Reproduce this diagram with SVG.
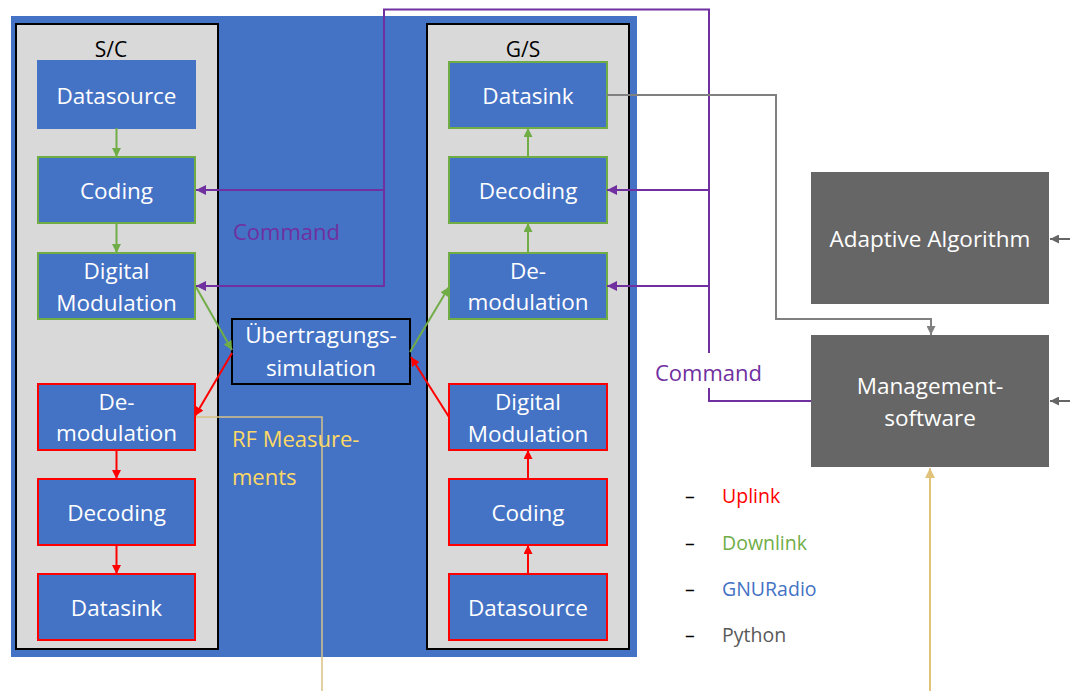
<svg xmlns="http://www.w3.org/2000/svg" width="1070" height="691" viewBox="0 0 1070 691">
  <style>
    .box { fill: #4472C4; stroke-width: 2; }
    .dl { stroke: #70AD47; }
    .ul { stroke: #FF0000; }
    .plain { stroke: #4472C4; }
    .panel { fill: #D9D9D9; stroke: #000; stroke-width: 2; }
    .py { fill: #666666; }
    .t { font-family: "Open Sans", "Liberation Sans", sans-serif; font-size: 22.5px; fill: #fff; text-anchor: middle; }
    .lbl { font-family: "Open Sans", "Liberation Sans", sans-serif; font-size: 21px; fill: #000; text-anchor: middle; }
    .cmd { font-family: "Open Sans", "Liberation Sans", sans-serif; font-size: 22px; fill: #7030A0; }
    .rf { font-family: "Open Sans", "Liberation Sans", sans-serif; font-size: 22px; fill: #FFD966; }
    .leg { font-family: "Open Sans", "Liberation Sans", sans-serif; font-size: 19.5px; }
    .c { fill: none; stroke-width: 2; }
    .cg { stroke: #70AD47; }
    .cr { stroke: #FF0000; }
    .cp { stroke: #7030A0; }
    .cy { stroke: #D6C186; stroke-width: 1.5; }
    .cy2 { stroke: #E0C27A; }
    .cgr { stroke: #808080; }
    .cdg { stroke: #666666; }
  </style>
  <defs>
    <marker id="ah-g" viewBox="0 0 10 10" refX="10" refY="5" markerWidth="9" markerHeight="9" markerUnits="userSpaceOnUse" orient="auto">
      <path d="M0,0 L10,5 L0,10 z" fill="#70AD47"/>
    </marker>
    <marker id="ah-r" viewBox="0 0 10 10" refX="10" refY="5" markerWidth="9" markerHeight="9" markerUnits="userSpaceOnUse" orient="auto">
      <path d="M0,0 L10,5 L0,10 z" fill="#FF0000"/>
    </marker>
    <marker id="ah-p" viewBox="0 0 10 10" refX="10" refY="5" markerWidth="10" markerHeight="10" markerUnits="userSpaceOnUse" orient="auto">
      <path d="M0,0 L10,5 L0,10 z" fill="#7030A0"/>
    </marker>
    <marker id="ah-gr" viewBox="0 0 10 10" refX="10" refY="5" markerWidth="9" markerHeight="9" markerUnits="userSpaceOnUse" orient="auto">
      <path d="M0,0 L10,5 L0,10 z" fill="#808080"/>
    </marker>
    <marker id="ah-dg" viewBox="0 0 10 10" refX="10" refY="5" markerWidth="9" markerHeight="9" markerUnits="userSpaceOnUse" orient="auto">
      <path d="M0,0 L10,5 L0,10 z" fill="#666666"/>
    </marker>
    <marker id="ah-y" viewBox="0 0 10 10" refX="10" refY="5" markerWidth="10" markerHeight="10" markerUnits="userSpaceOnUse" orient="auto">
      <path d="M0,0 L10,5 L0,10 z" fill="#E0C27A"/>
    </marker>
  </defs>

  <rect width="1070" height="691" fill="#fff"/>

  <!-- GNURadio flowgraph area -->
  <rect id="gnuradio-area" x="11" y="16" width="626" height="641" fill="#4472C4"/>

  <!-- spacecraft and ground station panels -->
  <g id="sc-panel">
    <rect class="panel" x="16" y="24" width="202" height="625"/>
    <text class="lbl" x="111" y="57">S/C</text>
  </g>
  <g id="gs-panel">
    <rect class="panel" x="427" y="24" width="202" height="625"/>
    <text class="lbl" x="523" y="57">G/S</text>
  </g>

  <!-- spacecraft blocks -->
  <g id="sc-datasource">
    <rect class="box plain" x="38" y="61" width="157" height="67"/>
    <text class="t" x="116.5" y="104">Datasource</text>
  </g>
  <g id="sc-coding">
    <rect class="box dl" x="38" y="157" width="157" height="66"/>
    <text class="t" x="116.5" y="199">Coding</text>
  </g>
  <g id="sc-modulation">
    <rect class="box dl" x="38" y="253" width="157" height="66"/>
    <text class="t" x="116.5" y="279">Digital</text>
    <text class="t" x="116.5" y="311">Modulation</text>
  </g>
  <g id="sc-demodulation">
    <rect class="box ul" x="38" y="384" width="157" height="66"/>
    <text class="t" x="116.5" y="410">De-</text>
    <text class="t" x="116.5" y="441">modulation</text>
  </g>
  <g id="sc-decoding">
    <rect class="box ul" x="38" y="479" width="157" height="66"/>
    <text class="t" x="116.5" y="521">Decoding</text>
  </g>
  <g id="sc-datasink">
    <rect class="box ul" x="38" y="574" width="157" height="66"/>
    <text class="t" x="116.5" y="616">Datasink</text>
  </g>

  <!-- ground station blocks -->
  <g id="gs-datasink">
    <rect class="box dl" x="449" y="62" width="158" height="66"/>
    <text class="t" x="528" y="104">Datasink</text>
  </g>
  <g id="gs-decoding">
    <rect class="box dl" x="449" y="157" width="158" height="66"/>
    <text class="t" x="528" y="199">Decoding</text>
  </g>
  <g id="gs-demodulation">
    <rect class="box dl" x="449" y="253" width="158" height="66"/>
    <text class="t" x="528" y="279">De-</text>
    <text class="t" x="528" y="310">modulation</text>
  </g>
  <g id="gs-modulation">
    <rect class="box ul" x="449" y="384" width="158" height="66"/>
    <text class="t" x="528" y="410">Digital</text>
    <text class="t" x="528" y="442">Modulation</text>
  </g>
  <g id="gs-coding">
    <rect class="box ul" x="449" y="479" width="158" height="66"/>
    <text class="t" x="528" y="521">Coding</text>
  </g>
  <g id="gs-datasource">
    <rect class="box ul" x="449" y="574" width="158" height="66"/>
    <text class="t" x="528" y="616">Datasource</text>
  </g>

  <!-- channel simulation -->
  <g id="channel-sim">
    <rect x="232" y="319" width="178" height="65" fill="#4472C4" stroke="#000" stroke-width="2"/>
    <text class="t" x="321" y="343">Übertragungs-</text>
    <text class="t" x="321" y="376">simulation</text>
  </g>

  <!-- python side -->
  <g id="adaptive-algorithm">
    <rect class="py" x="811" y="172" width="238" height="132"/>
    <text class="t" x="930" y="247">Adaptive Algorithm</text>
  </g>
  <g id="management-software">
    <rect class="py" x="811" y="335" width="238" height="132"/>
    <text class="t" x="930" y="394">Management-</text>
    <text class="t" x="930" y="426">software</text>
  </g>

  <!-- connectors -->
  <g id="connectors">
    <!-- downlink chain -->
    <line class="c cg" x1="116.5" y1="128" x2="116.5" y2="157" marker-end="url(#ah-g)"/>
    <line class="c cg" x1="116.5" y1="223" x2="116.5" y2="253" marker-end="url(#ah-g)"/>
    <line class="c cg" x1="196" y1="287" x2="232" y2="350" marker-end="url(#ah-g)"/>
    <line class="c cg" x1="410" y1="352" x2="449" y2="287" marker-end="url(#ah-g)"/>
    <line class="c cg" x1="528" y1="253" x2="528" y2="223" marker-end="url(#ah-g)"/>
    <line class="c cg" x1="528" y1="157" x2="528" y2="128" marker-end="url(#ah-g)"/>

    <!-- uplink chain -->
    <line class="c cr" x1="528" y1="574" x2="528" y2="545" marker-end="url(#ah-r)"/>
    <line class="c cr" x1="528" y1="479" x2="528" y2="450" marker-end="url(#ah-r)"/>
    <line class="c cr" x1="449" y1="417" x2="411" y2="357" marker-end="url(#ah-r)"/>
    <line class="c cr" x1="232" y1="353" x2="195" y2="416" marker-end="url(#ah-r)"/>
    <line class="c cr" x1="116.5" y1="450" x2="116.5" y2="479" marker-end="url(#ah-r)"/>
    <line class="c cr" x1="116.5" y1="545" x2="116.5" y2="574" marker-end="url(#ah-r)"/>

    <!-- command bus -->
    <polyline class="c cp" points="811,401 709,401 709,388"/>
    <polyline class="c cp" points="709,353 709,9.5 384,9.5 384,286 196,286" marker-end="url(#ah-p)"/>
    <line class="c cp" x1="384" y1="190" x2="196" y2="190" marker-end="url(#ah-p)"/>
    <line class="c cp" x1="709" y1="190" x2="607" y2="190" marker-end="url(#ah-p)"/>
    <line class="c cp" x1="709" y1="286" x2="607" y2="286" marker-end="url(#ah-p)"/>

    <!-- received data to management -->
    <polyline class="c cgr" points="607,95 776,95 776,319 931,319 931,335" marker-end="url(#ah-gr)"/>

    <!-- inputs from the right -->
    <line class="c cdg" x1="1070" y1="239" x2="1050" y2="239" marker-end="url(#ah-dg)"/>
    <line class="c cdg" x1="1070" y1="401" x2="1050" y2="401" marker-end="url(#ah-dg)"/>

    <!-- RF measurements -->
    <polyline class="c cy" points="196,417 322,417 322,691"/>
    <line class="c cy2" x1="930" y1="691" x2="930" y2="468" marker-end="url(#ah-y)"/>
  </g>

  <!-- connector labels -->
  <text class="cmd" x="233" y="240">Command</text>
  <text class="cmd" x="655" y="381">Command</text>
  <text class="rf" x="232" y="447">RF Measure-</text>
  <text class="rf" x="232" y="485">ments</text>

  <!-- legend -->
  <g id="legend">
    <text class="leg" x="685" y="503" fill="#000">–</text>
    <text class="leg" x="722" y="503" fill="#FF0000">Uplink</text>
    <text class="leg" x="685" y="550" fill="#000">–</text>
    <text class="leg" x="722" y="550" fill="#70AD47">Downlink</text>
    <text class="leg" x="685" y="596" fill="#000">–</text>
    <text class="leg" x="722" y="596" fill="#4472C4">GNURadio</text>
    <text class="leg" x="685" y="642" fill="#000">–</text>
    <text class="leg" x="722" y="642" fill="#595959">Python</text>
  </g>
</svg>
